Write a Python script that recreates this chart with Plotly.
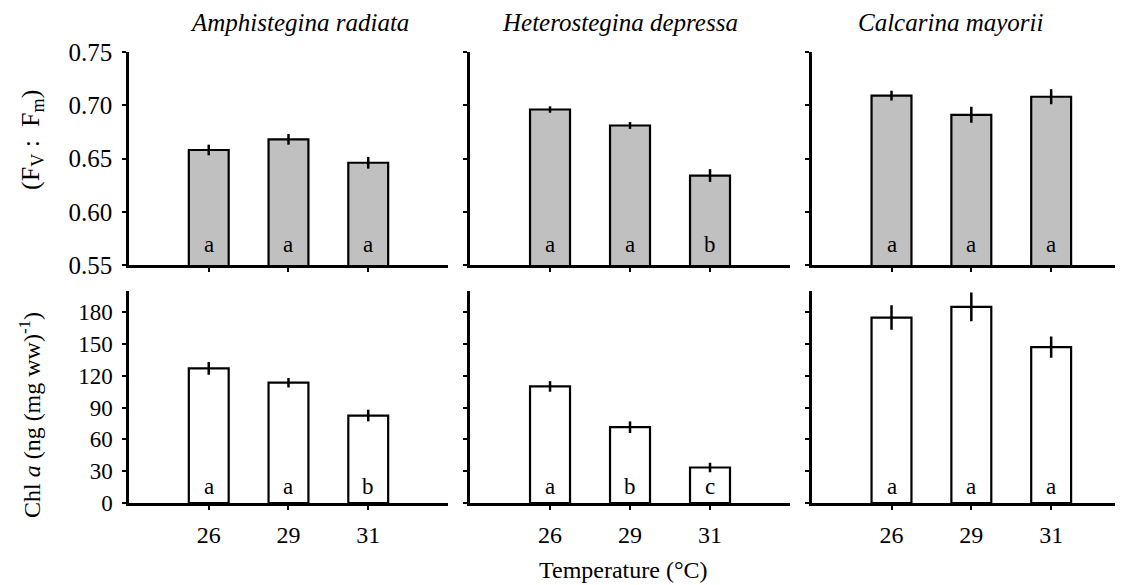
import plotly.graph_objects as go

temps = ["26", "29", "31"]
species = ["Amphistegina radiata", "Heterostegina depressa", "Calcarina mayorii"]

fv_ar = [0.658, 0.668, 0.646]
fv_ar_err = [0.005, 0.005, 0.0055]
fv_hd = [0.696, 0.681, 0.634]
fv_hd_err = [0.003, 0.0032, 0.006]
fv_cm = [0.709, 0.691, 0.708]
fv_cm_err = [0.0045, 0.0075, 0.007]

chl_ar = [127, 113.5, 82.5]
chl_ar_err = [6, 4.5, 5.5]
chl_hd = [110, 71.5, 33.5]
chl_hd_err = [5, 5.5, 4.5]
chl_cm = [175, 185, 147]
chl_cm_err = [11.5, 13.5, 10]

letters_fv = [["a", "a", "a"], ["a", "a", "b"], ["a", "a", "a"]]
letters_chl = [["a", "a", "b"], ["a", "b", "c"], ["a", "a", "a"]]

fv_ticks = [0.55, 0.60, 0.65, 0.70, 0.75]
chl_ticks = [0, 30, 60, 90, 120, 150, 180]

FONT = "Liberation Serif, Times New Roman, serif"

fv_vals = [fv_ar, fv_hd, fv_cm]
fv_errs = [fv_ar_err, fv_hd_err, fv_cm_err]
chl_vals = [chl_ar, chl_hd, chl_cm]
chl_errs = [chl_ar_err, chl_hd_err, chl_cm_err]

fig = go.Figure()

for i in range(3):
    xa = "x" if i == 0 else f"x{i+1}"
    ya = "y" if i == 0 else f"y{i+1}"
    fig.add_trace(go.Bar(
        x=temps, y=fv_vals[i], xaxis=xa, yaxis=ya, width=0.5,
        marker=dict(color="#c0c0c0", line=dict(color="black", width=2.2)),
        error_y=dict(type="data", array=fv_errs[i], color="black", thickness=2.5, width=0),
        showlegend=False,
    ))
    xb = f"x{i+4}"
    yb = f"y{i+4}"
    fig.add_trace(go.Bar(
        x=temps, y=chl_vals[i], xaxis=xb, yaxis=yb, width=0.5,
        marker=dict(color="white", line=dict(color="black", width=2.2)),
        error_y=dict(type="data", array=chl_errs[i], color="black", thickness=2.5, width=0),
        showlegend=False,
    ))

xdoms = [[0, 0.3209], [0.3431, 0.665], [0.6868, 1.0]]
xranges = [[-1, 3], [-1, 3], [-1, 2.9]]

layout = dict(
    width=1115, height=577,
    margin=dict(l=121, r=0, t=44, b=82),
    paper_bgcolor="white", plot_bgcolor="white",
    font=dict(family=FONT, size=22, color="black"),
    bargap=0.5,
)

axcommon = dict(showline=True, linecolor="black", linewidth=2.5, showgrid=False,
                zeroline=False, ticks="outside", tickcolor="black", tickwidth=2,
                ticklen=4)

for i in range(3):
    sfx_top = "" if i == 0 else str(i + 1)
    sfx_bot = str(i + 4)
    layout["xaxis" + sfx_top] = dict(
        axcommon, domain=xdoms[i], range=xranges[i], type="category",
        anchor="y" + sfx_top, showticklabels=False, fixedrange=True,
    )
    layout["yaxis" + sfx_top] = dict(
        axcommon, domain=[0.5277, 1.0], range=[0.55, 0.75],
        anchor="x" + sfx_top, tickvals=fv_ticks, tickformat=".2f",
        showticklabels=(i == 0), tickfont=dict(size=25), ticklabelstandoff=5,
    )
    layout["xaxis" + sfx_bot] = dict(
        axcommon, domain=xdoms[i], range=xranges[i], type="category",
        anchor="y" + sfx_bot, tickvals=temps, ticktext=temps,
        tickfont=dict(size=24), ticklabelstandoff=4,
    )
    layout["yaxis" + sfx_bot] = dict(
        axcommon, domain=[0, 0.470], range=[0, 200],
        anchor="x" + sfx_bot, tickvals=chl_ticks,
        showticklabels=(i == 0), tickfont=dict(size=23), ticklabelstandoff=5,
    )

annotations = []
title_x = [0.172, 0.494, 0.826]
for i in range(3):
    annotations.append(dict(
        text=f"<i>{species[i]}</i>", xref="paper", yref="paper",
        x=title_x[i], y=1.066, showarrow=False, borderpad=0,
        font=dict(size=25), xanchor="center", yanchor="middle",
    ))
    sfx_top = "" if i == 0 else str(i + 1)
    sfx_bot = str(i + 4)
    for j in range(len(temps)):
        annotations.append(dict(
            text=letters_fv[i][j], xref="x" + sfx_top, yref="y" + sfx_top,
            x=j, y=0.55, yshift=21, showarrow=False, font=dict(size=23),
            xanchor="center", yanchor="middle",
        ))
        annotations.append(dict(
            text=letters_chl[i][j], xref="x" + sfx_bot, yref="y" + sfx_bot,
            x=j, y=0, yshift=17, showarrow=False, font=dict(size=23),
            xanchor="center", yanchor="middle",
        ))

annotations.append(dict(
    text="(F<sub>V</sub> :&nbsp; F<sub>m</sub>)", xref="paper", yref="paper",
    x=-0.0976, y=0.805, textangle=-90, showarrow=False, font=dict(size=26),
    xanchor="center", yanchor="middle",
))
annotations.append(dict(
    text="Chl <i>a</i> (ng (mg ww)<sup>-1</sup>)", xref="paper", yref="paper",
    x=-0.0996, y=0.195, textangle=-90, showarrow=False, font=dict(size=24),
    xanchor="center", yanchor="middle",
))
annotations.append(dict(
    text="Temperature (°C)", xref="paper", yref="paper",
    x=0.497, y=-0.1486, showarrow=False, font=dict(size=24),
    xanchor="center", yanchor="middle",
))

layout["annotations"] = annotations
fig.update_layout(**layout)

fig.write_html("out.html")
